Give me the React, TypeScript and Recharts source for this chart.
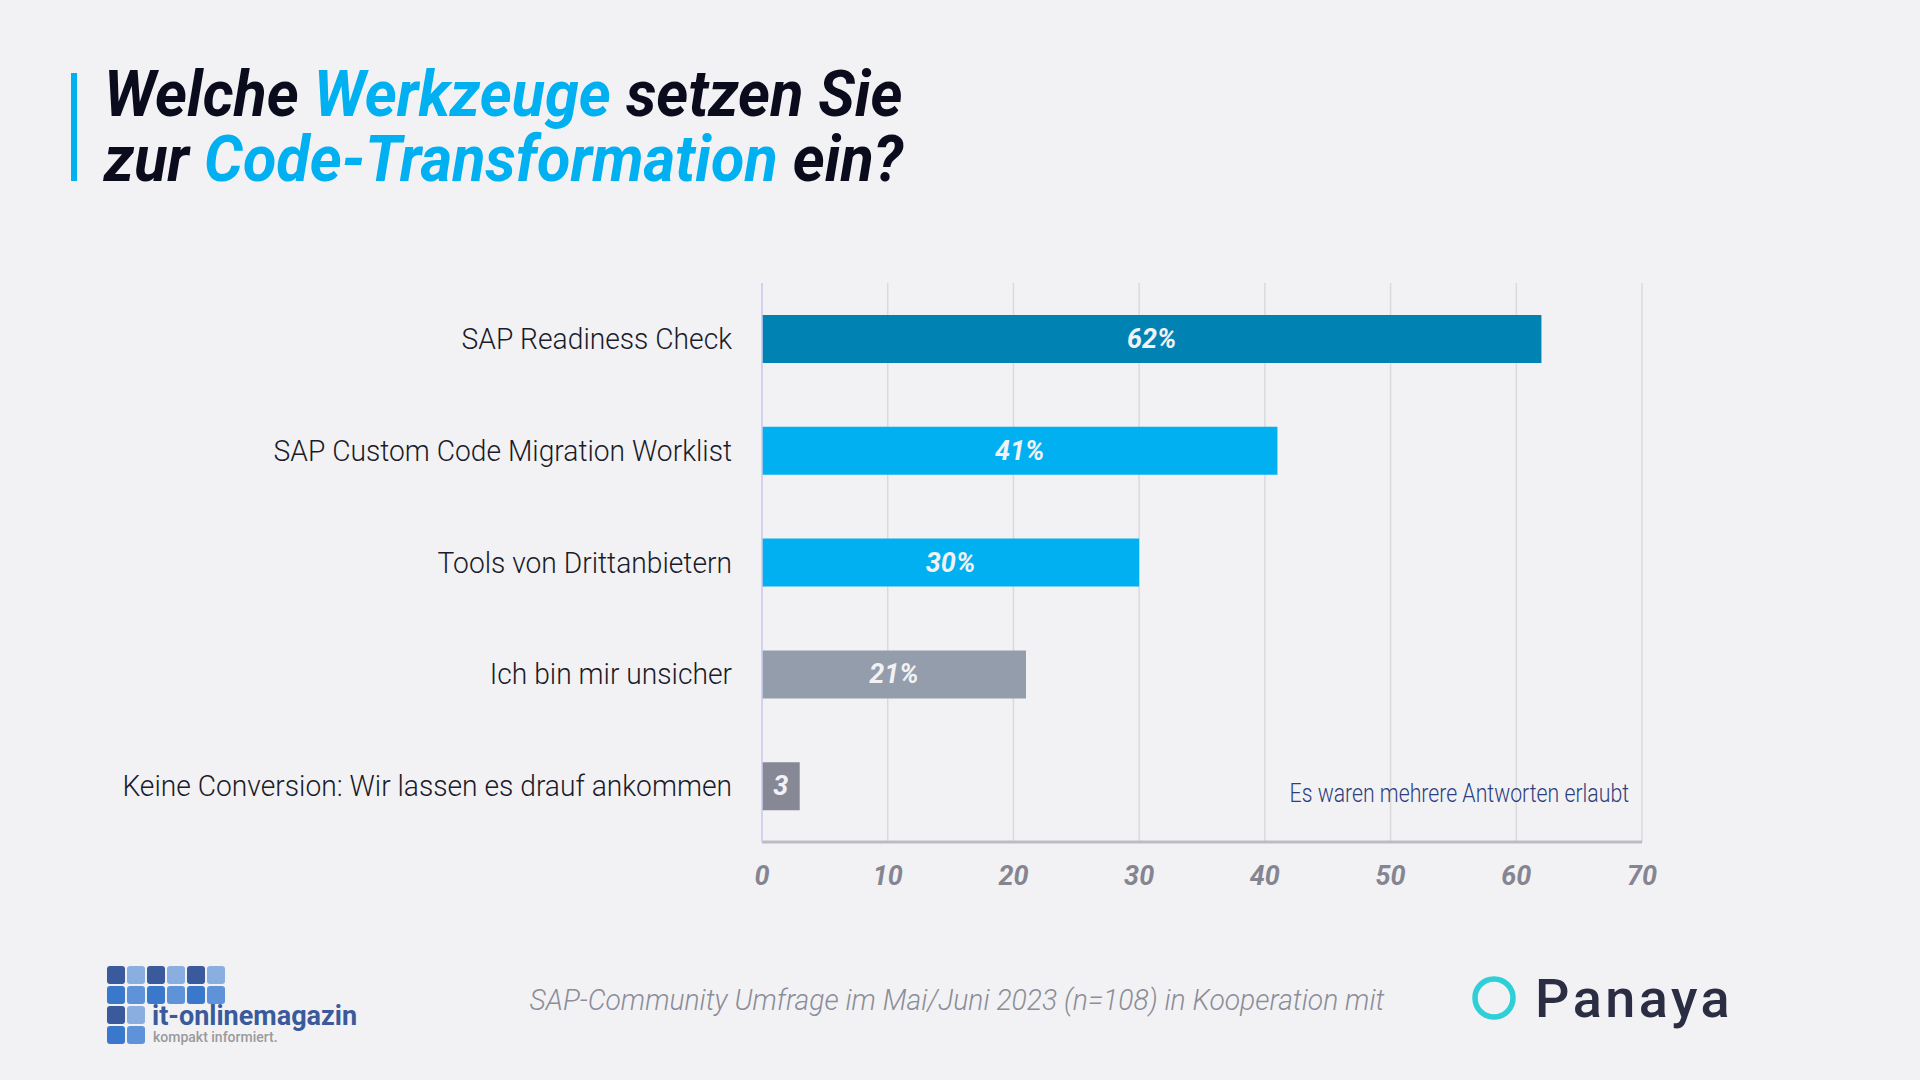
import React from "react";
import { BarChart, Bar, XAxis, YAxis, CartesianGrid, Cell, LabelList } from "recharts";

const categories = [
  "SAP Readiness Check",
  "SAP Custom Code Migration Worklist",
  "Tools von Drittanbietern",
  "Ich bin mir unsicher",
  "Keine Conversion: Wir lassen es drauf ankommen"
];
const values = [62, 41, 30, 21, 3];
const valueLabels = ["62%", "41%", "30%", "21%", "3"];
const barColors = ["#0083b3", "#00b0f0", "#00b0f0", "#949dab", "#868896"];
const xTicks = [0, 10, 20, 30, 40, 50, 60, 70];

const data = categories.map((name, i) => ({
  name,
  value: values[i],
  label: valueLabels[i]
}));

const FONT = "Roboto, 'Noto Sans', sans-serif";

const CategoryTick = ({ x, y, payload }: any) => (
  <g transform={`translate(${x - 20},${y}) scale(0.94,1)`}>
    <text
      x={0}
      y={0}
      dy={10}
      textAnchor="end"
      fontFamily={FONT}
      fontWeight={300}
      fontSize={30}
      fill="#1b1b2a"
    >
      {payload.value}
    </text>
  </g>
);

const ValueTick = ({ x, y, payload }: any) => (
  <text
    x={x}
    y={y}
    dy={35}
    textAnchor="middle"
    fontFamily={FONT}
    fontWeight={700}
    fontStyle="italic"
    fontSize={27}
    fill="#858592"
  >
    {payload.value}
  </text>
);

const BarLabel = ({ x, y, width, height, value }: any) => (
  <text
    x={x + width / 2}
    y={y + height / 2}
    dy={9}
    textAnchor="middle"
    fontFamily={FONT}
    fontWeight={700}
    fontStyle="italic"
    fontSize={27}
    fill="#f2f2f4"
  >
    {value}
  </text>
);

const logoTop = ["#3a5a9c", "#8aaee0", "#3a5a9c", "#8aaee0", "#3a5a9c", "#8aaee0"];
const logoMid = ["#3a78cc", "#5f93d9", "#3a78cc", "#5f93d9", "#3a78cc", "#5f93d9"];

const Decorations = () => (
  <svg
    width={1920}
    height={1080}
    style={{ position: "absolute", left: 0, top: 0, pointerEvents: "none" }}
  >
    <rect x={71} y={73} width={6} height={108} fill="#00b0f0" />
    <g transform="translate(104,0) scale(0.955,1)">
      <text fontFamily={FONT} fontWeight={700} fontStyle="italic" fontSize={64} fill="#0b0b1e">
        <tspan x={0} y={116}>Welche </tspan>
        <tspan fill="#00b0f0">Werkzeuge</tspan>
        <tspan> setzen Sie</tspan>
      </text>
      <text fontFamily={FONT} fontWeight={700} fontStyle="italic" fontSize={64} fill="#0b0b1e">
        <tspan x={0} y={181}>zur </tspan>
        <tspan fill="#00b0f0">Code-Transformation</tspan>
        <tspan> ein?</tspan>
      </text>
    </g>

    <g transform="translate(1629,802) scale(0.85,1)">
      <text textAnchor="end" fontFamily={FONT} fontWeight={300} fontSize={25} fill="#2d3e7c">
        Es waren mehrere Antworten erlaubt
      </text>
    </g>

    <g transform="translate(957,1010) scale(0.975,1)">
      <text
        textAnchor="middle"
        fontFamily={FONT}
        fontWeight={300}
        fontStyle="italic"
        fontSize={29}
        fill="#8b8d99"
      >
        SAP-Community Umfrage im Mai/Juni 2023 (n=108) in Kooperation mit
      </text>
    </g>

    {/* it-onlinemagazin logo */}
    {logoTop.map((c, i) => (
      <rect key={`t${i}`} x={107 + i * 20} y={966} width={18} height={18} rx={3} fill={c} />
    ))}
    {logoMid.map((c, i) => (
      <rect key={`m${i}`} x={107 + i * 20} y={986} width={18} height={18} rx={3} fill={c} />
    ))}
    {[0, 1].map((i) => (
      <rect key={`a${i}`} x={107 + i * 20} y={1006} width={18} height={18} rx={3} fill={logoTop[i]} />
    ))}
    {[0, 1].map((i) => (
      <rect key={`b${i}`} x={107 + i * 20} y={1026} width={18} height={18} rx={3} fill={logoMid[i]} />
    ))}
    <text x={152} y={1025} fontFamily={FONT} fontWeight={700} fontSize={27} fill="#3a5a9c">
      it-onlinemagazin
    </text>
    <text x={153} y={1042} fontFamily={FONT} fontWeight={500} fontSize={14} fill="#9a9a9a">
      kompakt informiert.
    </text>

    {/* Panaya logo */}
    <circle cx={1494} cy={998} r={19} fill="none" stroke="#2ecfd6" strokeWidth={5.5} />
    <text
      x={1535}
      y={1017}
      fontFamily={FONT}
      fontWeight={500}
      fontSize={54}
      letterSpacing={3.5}
      fill="#2b2d42"
    >
      Panaya
    </text>
  </svg>
);

export default function App() {
  return (
    <div
      style={{
        position: "absolute",
        left: 0,
        top: 0,
        width: 1920,
        height: 1080,
        background: "#f2f2f4",
        overflow: "hidden"
      }}
    >
      <BarChart
        width={1920}
        height={1080}
        data={data}
        layout="vertical"
        margin={{ top: 283, right: 278, bottom: 178, left: 62 }}
        barSize={48}
      >
        <CartesianGrid horizontal={false} stroke="#dadade" strokeWidth={1.5} />
        <XAxis
          type="number"
          dataKey="value"
          domain={[0, 70]}
          ticks={xTicks}
          height={60}
          tickLine={false}
          axisLine={{ stroke: "#bdbcc6", strokeWidth: 3 }}
          tick={<ValueTick />}
          interval={0}
        />
        <YAxis
          type="category"
          dataKey="name"
          width={700}
          tickLine={false}
          tickSize={8}
          axisLine={{ stroke: "#cfcdf3", strokeWidth: 1.5 }}
          tick={<CategoryTick />}
          interval={0}
        />
        <Bar dataKey="value" isAnimationActive={false}>
          {data.map((entry, index) => (
            <Cell key={`cell-${index}`} fill={barColors[index]} />
          ))}
          <LabelList dataKey="label" content={<BarLabel />} />
        </Bar>
      </BarChart>
      <Decorations />
    </div>
  );
}
